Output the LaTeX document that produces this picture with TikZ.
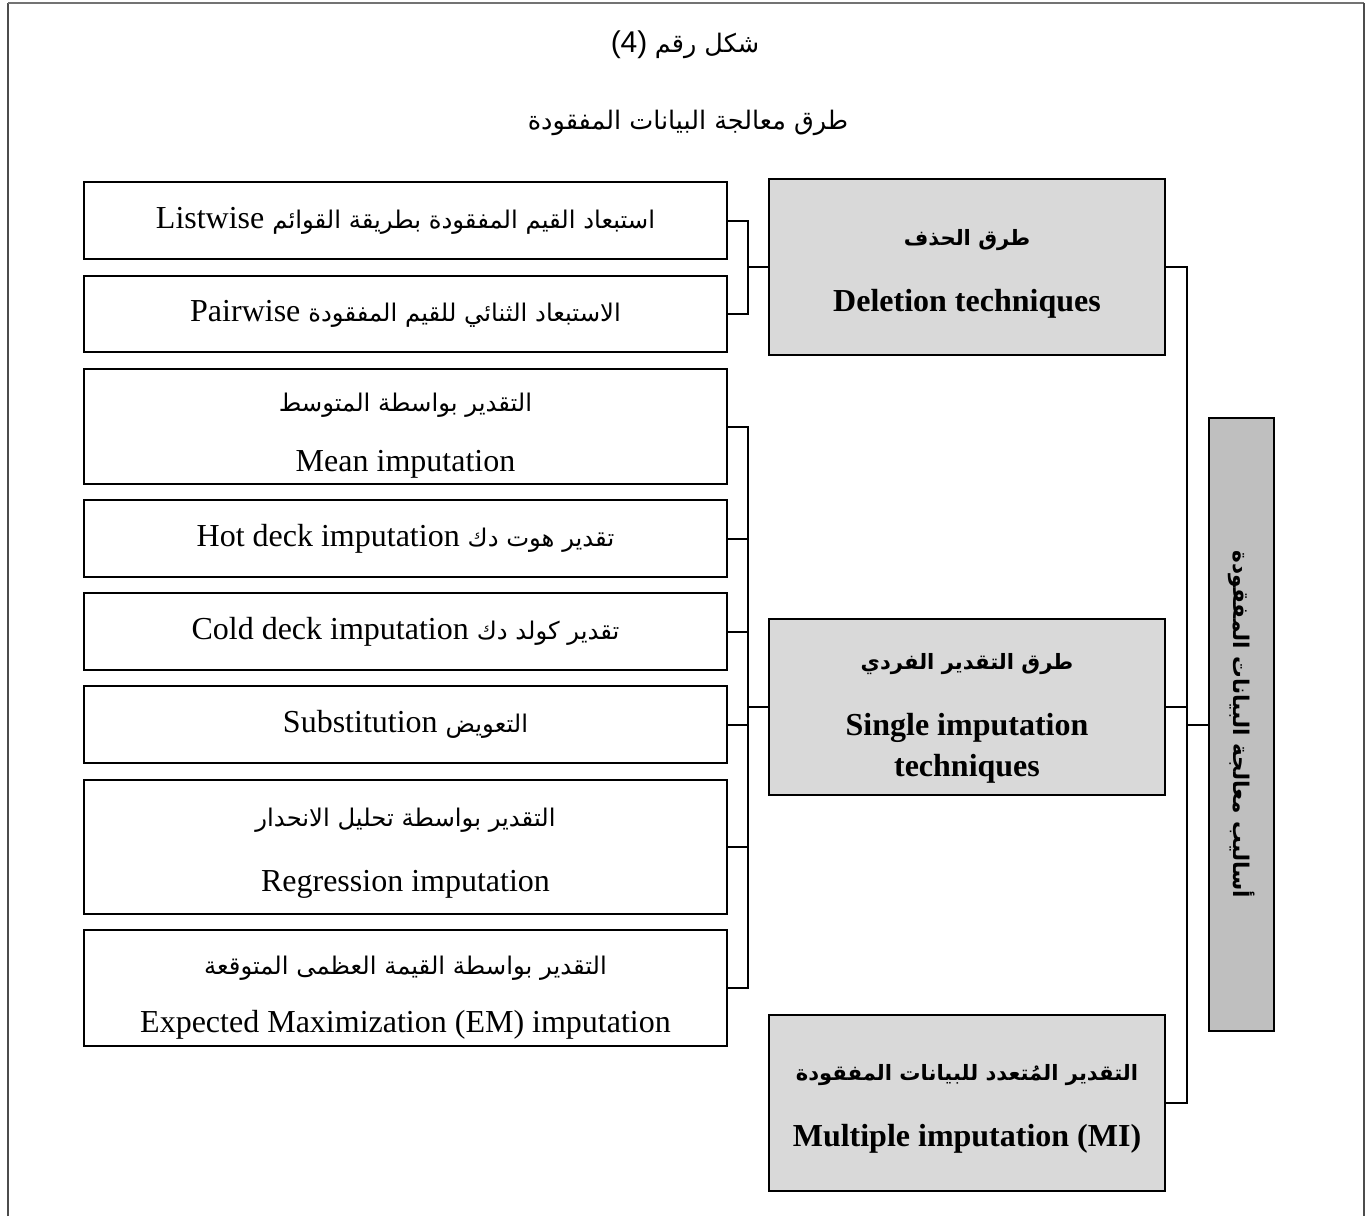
\documentclass[tikz,border=0pt]{standalone}
\usepackage{fontspec}
\setmainfont{Liberation Serif}
\newfontfamily\arfont[Script=Arabic,Scale=0.76]{DejaVu Sans}
\newfontfamily\arbfont[Script=Arabic,Scale=0.66]{DejaVu Sans}
\newfontfamily\armain[Script=Arabic,Scale=0.8]{DejaVu Sans}
\newfontfamily\artitle[Script=Arabic,Scale=0.85]{DejaVu Sans}
\newfontfamily\latsans{Liberation Sans}
\TeXXeTstate=1
\newcommand\AR[1]{\beginR{\arfont #1}\endR}
\newcommand\ARB[1]{\beginR{\arbfont\bfseries #1}\endR}
\newcommand\strutup[1]{\rule{0pt}{#1}}
\begin{document}
\begin{tikzpicture}[x=1pt,y=-1pt,
  leaf/.style={draw=black,line width=2pt,minimum width=643pt,inner sep=0pt,outer sep=0pt,align=center,font=\fontsize{32}{60}\selectfont},
  midbox/.style={draw=black,line width=2pt,fill=black!15,minimum width=396pt,minimum height=176pt,inner sep=0pt,outer sep=0pt,align=center,font=\fontsize{32}{66}\selectfont\bfseries},
  mainbox/.style={draw=black,line width=2.5pt,fill=black!25,minimum width=65pt,minimum height=613pt,inner sep=0pt,outer sep=0pt},
  conn/.style={draw=black,line width=2pt},
  frame/.style={line width=2.5pt,draw=black!70}]
\useasboundingbox (0,0) rectangle (1370,1216);
% outer frame
\draw[frame] (8,1216) -- (8,3);
\draw[line width=1.5pt,draw=black!55] (8,3) -- (1364,3);
\draw[frame] (1364,3) -- (1364,1216);
% titles
\node[font=\fontsize{30}{36}\selectfont] (t1) at (685,45) {\beginR{\artitle شكل رقم} \beginL{\latsans (4)}\endL\endR};
\node[font=\fontsize{30}{36}\selectfont] (t2) at (688,123) {\beginR{\artitle طرق معالجة البيانات المفقودة}\endR};
% leaf boxes
\node[leaf,minimum height=77pt] (b1) at (405.5,220.5) {\beginR{\arfont استبعاد القيم المفقودة بطريقة القوائم} \beginL Listwise\endL\endR};
\node[leaf,minimum height=76pt] (b2) at (405.5,314) {\beginR{\arfont الاستبعاد الثنائي للقيم المفقودة} \beginL Pairwise\endL\endR};
\node[leaf,minimum height=115pt] (b3) at (405.5,426.5) {\strutup{36pt}\AR{التقدير بواسطة المتوسط}\\ Mean imputation};
\node[leaf,minimum height=77pt] (b4) at (405.5,538.5) {\beginR{\arfont تقدير هوت دك} \beginL Hot deck imputation\endL\endR};
\node[leaf,minimum height=77pt] (b5) at (405.5,631.5) {\beginR{\arfont تقدير كولد دك} \beginL Cold deck imputation\endL\endR};
\node[leaf,minimum height=77pt] (b6) at (405.5,724.5) {\beginR{\arfont التعويض} \beginL Substitution\endL\endR};
\node[leaf,minimum height=134pt,font=\fontsize{32}{65}\selectfont] (b7) at (405.5,847) {\strutup{30pt}\AR{التقدير بواسطة تحليل الانحدار}\\ Regression imputation};
\node[leaf,minimum height=116pt,font=\fontsize{32}{58}\selectfont] (b8) at (405.5,988) {\strutup{38pt}\AR{التقدير بواسطة القيمة العظمى المتوقعة}\\ Expected Maximization (EM) imputation};
% middle boxes
\node[midbox] (del) at (967,267) {\strutup{30pt}\ARB{طرق الحذف}\\ Deletion techniques};
\node[midbox,font=\fontsize{32}{41}\selectfont\bfseries] (sin) at (967,707) {\strutup{38pt}\ARB{طرق التقدير الفردي}\\[25pt] Single imputation\\ techniques};
\node[midbox] (mul) at (967,1103) {\strutup{28pt}\ARB{التقدير المُتعدد للبيانات المفقودة}\\ Multiple imputation (MI)};
% main vertical box
\node[mainbox] (main) at (1241.5,724.5) {};
\node[rotate=-90,font=\fontsize{27}{32}\selectfont] (mainlabel) at (main.center) {\beginR{\armain\bfseries أساليب معالجة البيانات المفقودة}\endR};
% connectors
\foreach \b in {b1,b2}{\draw[conn] (\b.east) -- ++(21,0) |- (del.west);}
\foreach \b in {b3,b4,b5,b6,b7,b8}{\draw[conn] (\b.east) -- ++(21,0) |- (sin.west);}
\foreach \b in {del,sin,mul}{\draw[conn] (\b.east) -- ++(22,0) |- (main.west);}
\end{tikzpicture}
\end{document}
